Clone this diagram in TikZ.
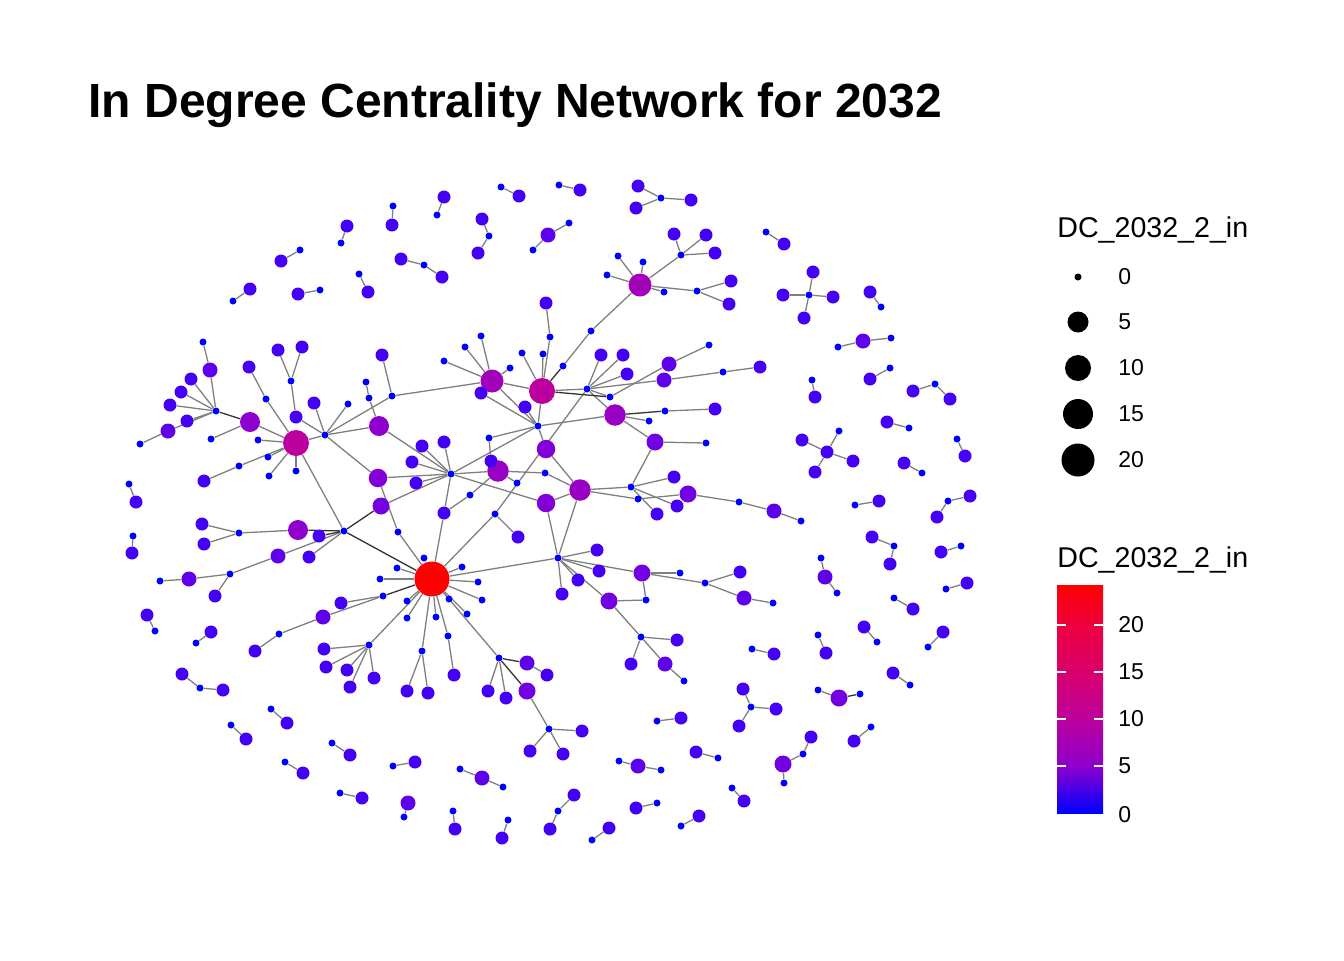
\documentclass[tikz,border=0pt]{standalone}
\usepackage{fontspec}
\setmainfont{Liberation Sans}
\pgfdeclarelayer{edges}
\pgfsetlayers{edges,main}
\definecolor{cz}{RGB}{0,0,255}
\definecolor{c1}{RGB}{68,0,245}
\definecolor{c2}{RGB}{95,0,235}
\definecolor{c3}{RGB}{114,0,225}
\definecolor{c4}{RGB}{130,0,215}
\definecolor{c5}{RGB}{142,0,205}
\definecolor{c6}{RGB}{154,0,195}
\definecolor{c7}{RGB}{163,0,186}
\definecolor{c10}{RGB}{187,0,157}
\definecolor{c15}{RGB}{217,0,109}
\definecolor{c20}{RGB}{239,0,63}
\definecolor{c24}{RGB}{255,0,0}
\definecolor{edgegray}{RGB}{127,127,127}
\tikzset{
  nd/.style={circle, inner sep=0pt, draw=none},
  d0/.style={nd, fill=cz, minimum size=3.5pt},
  d1/.style={nd, fill=c1, minimum size=6.5pt},
  d2/.style={nd, fill=c2, minimum size=7.5pt},
  d3/.style={nd, fill=c3, minimum size=8.5pt},
  d4/.style={nd, fill=c4, minimum size=9.25pt},
  d5/.style={nd, fill=c5, minimum size=10pt},
  d6/.style={nd, fill=c6, minimum size=10.75pt},
  d7/.style={nd, fill=c7, minimum size=11.5pt},
  d10/.style={nd, fill=c10, minimum size=13pt},
  d24/.style={nd, fill=c24, minimum size=17.5pt},
  edge/.style={draw=edgegray, line width=0.65pt},
  dedge/.style={draw=black!80, line width=0.65pt},
  legtitle/.style={anchor=base west, inner sep=0pt, font=\fontsize{14.3}{17}\selectfont},
  leglabel/.style={anchor=west, inner sep=0pt, font=\fontsize{11.5}{13}\selectfont}
}

\begin{document}
\begin{tikzpicture}[x=0.5pt,y=-0.5pt]
\useasboundingbox (0,0) rectangle (1344,960);

% title
\node[anchor=base west, inner sep=0pt, font=\bfseries\fontsize{24}{28}\selectfont] (title) at (88,117) {In Degree Centrality Network for 2032};

% main component, largest nodes first
\node[d24] (r0) at (432,579) {};
\foreach \n/\x/\y in {hA/296/443, hB/542/391}
  \node[d10] (\n) at (\x,\y) {};
\foreach \n/\x/\y in {hC/492/381, hD/640/285}
  \node[d7] (\n) at (\x,\y) {};
\foreach \n/\x/\y in {hE/615/415, hF/580/490, hG/498/471}
  \node[d6] (\n) at (\x,\y) {};
\foreach \n/\x/\y in {L10/250/422, L31/379/426, B1/298/530}
  \node[d5] (\n) at (\x,\y) {};
\foreach \n/\x/\y in {L32/378/478, M14/546/449, M15/546/503}
  \node[d4] (\n) at (\x,\y) {};
\foreach \n/\x/\y in {L33/381/506, T35/655/442, R3/688/494, S7/642/573, S14/609/601, B44/527/691}
  \node[d3] (\n) at (\x,\y) {};
\foreach \n/\x/\y in {L2/210/370, L7/168/431, T27/669/364, T28/664/380, R8/774/511, S11/744/598,
    S18/665/664, B7/278/556, B9/189/579, B17/323/617, B40/527/663}
  \node[d2] (\n) at (\x,\y) {};
\foreach \n/\x/\y in {L3/191/379, L4/181/392, L5/170/405, L6/187/421, L12/249/367, L14/278/350,
    L15/302/347, L17/296/417, L18/314/403, L22/204/481, L27/382/355,
    M2/422/446, M3/444/442, M4/412/462, M5/416/483, M6/444/513, M9/491/461, M12/518/537,
    M17/525/407, M18/481/393,
    T10/546/303, T18/674/234, T19/706/235, T20/715/253, T22/731/281, T23/729/304, T24/601/355,
    T25/623/355, T26/627/374, T31/760/367, T33/715/409,
    R2/674/477, R4/677/506, R5/657/514,
    S3/597/550, S4/599/571, S5/578/580, S6/562/594, S10/740/572, S16/677/640, S17/631/664,
    B2/319/536, B4/202/524, B5/204/544, B6/309/557, B11/215/596, B16/341/603, B19/255/651,
    B29/324/649, B30/326/667, B31/347/670, B32/350/687, B33/374/678, B35/428/693, B36/407/691,
    B38/454/675, B41/547/675, B42/488/691, B43/506/698, B46/582/731, B47/530/751, B48/563/754}
  \node[d1] (\n) at (\x,\y) {};
\foreach \n/\x/\y in {L1/203/342, L8/140/444, L9/216/411, L11/211/439, L13/266/399, L16/291/381,
    L19/258/440, L20/268/457, L21/239/466, L23/269/476, L24/296/471, L25/325/435, L26/348/404,
    L28/392/396, L29/366/382, L30/369/398, L34/398/532,
    M1/451/474, M7/470/495, M8/489/438, M10/517/483, M11/495/514, M13/545/473, M16/538/426,
    T1/587/389, T2/610/397, T3/481/336, T4/465/347, T5/444/361, T6/510/368, T7/522/353,
    T8/543/354, T9/550/337, T11/563/366, T12/591/331, T13/618/256, T14/643/262, T15/607/275,
    T16/664/292, T17/681/255, T21/697/291, T29/709/345, T30/723/372, T32/665/411, T34/649/421,
    T36/706/443,
    R1/631/487, R6/638/499, R7/739/502, R9/801/521,
    S1/344/531, S2/558/558, S8/680/573, S9/705/583, S12/773/603, S13/646/600, S15/641/637,
    S19/684/681,
    B3/239/533, B8/230/574, B10/160/581, B12/424/558, B13/397/568, B14/380/579, B15/383/596,
    B18/279/634, B20/407/601, B21/407/618, B22/436/617, B23/449/599, B24/467/614, B25/462/567,
    B26/478/582, B27/482/600, B28/369/645, B34/422/651, B37/448/636, B39/499/658, B45/549/729}
  \node[d0] (\n) at (\x,\y) {};

\begin{pgfonlayer}{edges}
\foreach \a/\b in {L1/L2, L2/L9, L3/L9, L4/L9, L5/L9, L6/L9, L7/L9, L8/L7, L11/L10, L10/hA,
    L12/L13, L13/hA, L14/L16, L15/L16, L16/L17, L17/L25, L18/L25, L19/hA, L20/hA, L22/L21,
    L21/hA, L23/hA, L24/hA, hA/L25, L26/L25, L27/L28, L28/L25, L28/hC, L29/L30, L30/L31,
    L25/L31, L25/L32, L32/L34, L34/r0, L31/M1, L32/M1, L33/M1, hA/S1,
    M1/M2, M1/M3, M1/M4, M1/M5, M1/M6, M6/r0, M1/hG, M1/M15, M1/M16, M8/M9, M8/M16, M7/M6,
    M7/hG, hG/M10, M11/M12, M11/r0, M11/T1, hG/M13, M13/hF, M16/hC, M16/hB, M16/M17, M16/M18,
    M16/hE, M16/M14, M14/hF, M15/hF, hF/S2, M15/S2, hF/R1, hF/R6,
    hC/T3, hC/T4, hC/T5, hC/T6, hC/hB, hB/T7, hB/T8, hB/T9, T9/T10, T11/T12, T12/hD, hB/T1,
    T1/T24, T1/T25, T1/T26, T1/T28, T1/T2, T2/T27, T1/hE, T27/T29, T28/T30, T30/T31,
    hD/T13, hD/T14, hD/T15, hD/T16, hD/T17, T17/T18, T17/T19, T17/T20, hD/T21, T21/T22,
    T21/T23, T32/T33, hE/T34, hE/T35, T35/T36, T35/R1, R1/R2, R1/R4, R1/R5, R6/R3, R3/R7,
    R7/R8, R8/R9,
    r0/S2, S2/S3, S2/S4, S2/S5, S2/S6, S2/S7, S2/S14, S7/S8, S7/S9, S9/S10, S9/S11, S11/S12,
    S7/S13, S13/S14, S14/S15, S15/S16, S15/S17, S15/S18, S18/S19,
    S1/B6, S1/B7, B1/B3, B3/B4, B3/B5, B7/B8, B8/B9, B9/B10, B8/B11, r0/B12, r0/B13, r0/B14,
    B15/B16, B15/B17, B17/B18, B18/B19, r0/B20, r0/B21, r0/B22, r0/B23, r0/B24, r0/B25,
    r0/B26, r0/B27, r0/B28, B28/B29, B28/B30, B28/B31, B28/B32, B28/B33, r0/B34, B34/B35,
    B34/B36, r0/B37, B37/B38, r0/B39, B40/B41, B39/B42, B39/B43, B44/B45, B45/B46, B45/B47,
    B45/B48}
  \draw[edge] (\a) -- (\b);
\foreach \a/\b in {L9/L10, L33/S1, hB/T11, hB/T2, hE/T32, S1/B1, S1/B2, S1/r0, r0/B15,
    B39/B40, B39/B44}
  \draw[dedge] (\a) -- (\b);
\end{pgfonlayer}

% isolated pairs
\foreach \ax/\ay/\bx/\by [count=\i] in {393/206/392/225, 437/215/444/197, 341/243/347/226,
    300/250/281/261, 359/274/368/292, 233/301/250/289, 320/290/298/294, 501/187/519/196,
    559/185/580/190, 766/232/784/244, 881/307/870/292, 890/368/870/379, 812/380/815/397,
    909/428/887/422, 957/439/965/456, 922/473/904/463, 855/505/879/501, 961/546/941/552,
    946/589/967/583, 894/598/913/609, 129/484/136/502, 133/536/132/553, 155/631/147/615,
    196/643/211/632, 271/709/287/723, 231/725/246/739, 332/743/350/755, 285/762/303/773,
    340/793/362/798, 393/766/415/762, 453/811/455/829, 508/820/502/838, 592/840/609/828,
    657/803/636/808, 681/826/699/816, 657/721/681/718, 718/758/696/752, 732/788/744/801,
    752/649/774/654, 818/635/826/653, 877/642/864/627, 928/647/943/632, 910/685/893/673,
    871/727/854/741}
{
  \node[d0] (p\i-z) at (\ax,\ay) {};
  \node[d1] (p\i-a) at (\bx,\by) {};
  \begin{pgfonlayer}{edges}\draw[edge] (p\i-z) -- (p\i-a);\end{pgfonlayer}
}

% isolated triples, empty node in the middle
\foreach \cx/\cy/\ax/\ay/\bx/\by [count=\i] in {489/236/482/219/478/253,
    424/265/401/259/442/277, 200/688/182/674/223/690, 894/546/872/537/890/564,
    948/501/970/496/937/517, 935/384/913/391/950/399, 558/811/574/795/550/829}
{
  \node[d1] (v\i-a) at (\ax,\ay) {};
  \node[d1] (v\i-b) at (\bx,\by) {};
  \node[d0] (v\i-c) at (\cx,\cy) {};
  \begin{pgfonlayer}{edges}
    \draw[edge] (v\i-a) -- (v\i-c) -- (v\i-b);
  \end{pgfonlayer}
}

% isolated triples, filled node in the middle
\foreach \cx/\cy/\ax/\ay/\bx/\by [count=\i] in {548/235/569/223/533/250,
    863/341/838/347/891/338, 825/577/821/558/837/593, 482/778/460/769/503/787,
    638/766/619/761/661/770}
{
  \node[d2] (w\i-c) at (\cx,\cy) {};
  \node[d0] (w\i-a) at (\ax,\ay) {};
  \node[d0] (w\i-b) at (\bx,\by) {};
  \begin{pgfonlayer}{edges}
    \draw[edge] (w\i-a) -- (w\i-c) -- (w\i-b);
  \end{pgfonlayer}
}

% small stars and chains
\node[d2] (q1) at (408,803) {};
\node[d0] (q2) at (404,817) {};
\node[d3] (k1) at (839,698) {};
\node[d0] (k2) at (818,690) {};
\node[d0] (k3) at (860,694) {};
\node[d3] (c1) at (783,764) {};
\node[d1] (c2) at (811,737) {};
\node[d0] (c3) at (803,754) {};
\node[d0] (c4) at (784,783) {};
\node[d0] (s1) at (661,198) {};
\foreach \n/\x/\y in {s1a/638/186, s1b/691/200, s1c/636/208}
  \node[d1] (\n) at (\x,\y) {};
\node[d0] (s2) at (809,295) {};
\foreach \n/\x/\y in {s2a/813/272, s2b/783/295, s2c/833/297, s2d/804/318}
  \node[d1] (\n) at (\x,\y) {};
\node[d1] (s3) at (827,452) {};
\node[d0] (s3a) at (839,431) {};
\foreach \n/\x/\y in {s3b/802/440, s3c/853/461, s3d/815/472}
  \node[d1] (\n) at (\x,\y) {};
\node[d0] (s4) at (751,707) {};
\foreach \n/\x/\y in {s4a/743/689, s4b/776/709, s4c/739/726}
  \node[d1] (\n) at (\x,\y) {};
\begin{pgfonlayer}{edges}
\foreach \a/\b in {q1/q2, k1/k2, c2/c3, c3/c1, c1/c4, s1/s1a, s1/s1b, s1/s1c, s2/s2a, s2/s2b,
    s2/s2c, s2/s2d, s3/s3a, s3/s3b, s3/s3c, s3/s3d, s4/s4a, s4/s4b, s4/s4c}
  \draw[edge] (\a) -- (\b);
\draw[dedge] (k1) -- (k3);
\end{pgfonlayer}

% size legend
\node[legtitle] (sizetitle) at (1057,237) {DC\_2032\_2\_in};
\foreach \v/\y/\s in {0/277/3.5, 5/322/10.5, 10/368/13, 15/414/15, 20/460/16.5}
{
  \node[nd, fill=black, minimum size=\s pt] (key\v) at (1078,\y) {};
  \node[leglabel] (keylab\v) at (1118,\y) {\v};
}

% colour legend
\node[legtitle] (colortitle) at (1057,567) {DC\_2032\_2\_in};
\shade[bottom color=cz, top color=c5] (1057,813) rectangle (1103,766);
\shade[bottom color=c5, top color=c10] (1057,766.5) rectangle (1103,719);
\shade[bottom color=c10, top color=c15] (1057,719.5) rectangle (1103,672);
\shade[bottom color=c15, top color=c20] (1057,672.5) rectangle (1103,625);
\shade[bottom color=c20, top color=c24] (1057,625.5) rectangle (1103,585);
\foreach \y in {625,672,719,766}
{
  \draw[white, line width=0.6pt] (1057,\y) -- (1066,\y);
  \draw[white, line width=0.6pt] (1094,\y) -- (1103,\y);
}
\foreach \v/\y in {20/625, 15/672, 10/719, 5/766, 0/815}
  \node[leglabel] (barlab\v) at (1118,\y) {\v};
\end{tikzpicture}
\end{document}
